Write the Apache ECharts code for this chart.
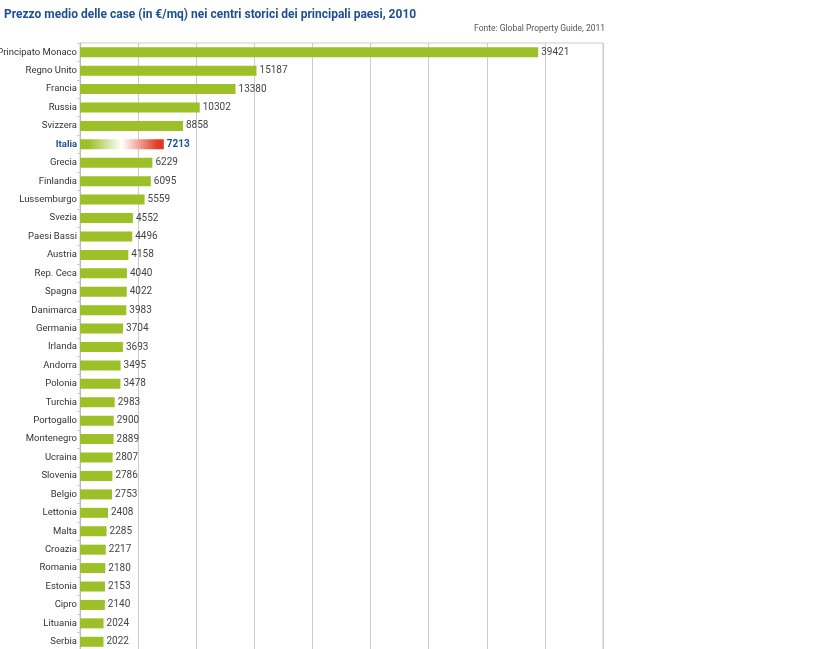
<!DOCTYPE html>
<html>
<head>
<meta charset="utf-8">
<script src="https://cdn.jsdelivr.net/npm/echarts@6/dist/echarts.min.js"></script>
<style>
html,body{margin:0;padding:0;background:#fff;}
#chart{width:819px;height:649px;}
</style>
</head>
<body>
<div id="chart"></div>
<script>
var categories = ["Principato Monaco","Regno Unito","Francia","Russia","Svizzera","Italia","Grecia","Finlandia","Lussemburgo","Svezia","Paesi Bassi","Austria","Rep. Ceca","Spagna","Danimarca","Germania","Irlanda","Andorra","Polonia","Turchia","Portogallo","Montenegro","Ucraina","Slovenia","Belgio","Lettonia","Malta","Croazia","Romania","Estonia","Cipro","Lituania","Serbia"];
var values = [39421,15187,13380,10302,8858,7213,6229,6095,5559,4552,4496,4158,4040,4022,3983,3704,3693,3495,3478,2983,2900,2889,2807,2786,2753,2408,2285,2217,2180,2153,2140,2024,2022];
var highlight = "Italia";
var titleText = "Prezzo medio delle case (in €/mq) nei centri storici dei principali paesi, 2010";
var sourceText = "Fonte: Global Property Guide, 2011";

var FONT = "Roboto, 'Liberation Sans', sans-serif";
var GREEN = '#9dbf27';
var BLUE = '#1d4f91';

var seriesData = values.map(function(v, i){
  if (categories[i] === highlight) {
    return {
      value: v,
      itemStyle: {
        color: new echarts.graphic.LinearGradient(0,0,1,0,[
          {offset:0,color:GREEN},
          {offset:0.1,color:GREEN},
          {offset:0.5,color:'#ffffff'},
          {offset:0.92,color:'#e23d25'},
          {offset:1,color:'#e0381f'}
        ])
      },
      label: {color: BLUE, fontWeight:'bold'}
    };
  }
  return v;
});

var chart = echarts.init(document.getElementById('chart'));
chart.setOption({
  animation:false,
  title:[
    {text:titleText,left:4,top:9,padding:0,textStyle:{fontFamily:FONT,fontSize:12,fontWeight:'bold',color:BLUE}},
    {text:sourceText,right:214,top:24,padding:0,textStyle:{fontFamily:FONT,fontSize:8.5,fontWeight:'normal',color:'#555'}}
  ],
  grid:{left:80,right:216,top:43,bottom:-2,containLabel:false,outerBoundsMode:'none',show:true,borderColor:'#cccccc',borderWidth:1},
  xAxis:{
    type:'value',min:0,max:45000,interval:5000,
    axisLabel:{show:false},axisLine:{show:false},axisTick:{show:false},
    splitLine:{lineStyle:{color:'#cccccc',width:1}}
  },
  yAxis:{
    type:'category',inverse:true,data:categories,
    axisLine:{lineStyle:{color:'#bbbbbb'}},
    axisTick:{show:true,length:3,lineStyle:{color:'#cccccc'}},
    axisLabel:{
      margin:3,fontFamily:FONT,fontSize:9.5,color:'#333',
      formatter:function(v){return v===highlight?'{h|'+v+'}':v;},
      rich:{h:{fontFamily:FONT,fontSize:9.5,fontWeight:'bold',color:BLUE}}
    }
  },
  series:[{
    type:'bar',data:seriesData,barWidth:10,
    itemStyle:{color:GREEN},
    label:{show:true,position:'right',distance:3,fontFamily:FONT,fontSize:10,color:'#444'}
  }]
});
</script>
</body>
</html>
